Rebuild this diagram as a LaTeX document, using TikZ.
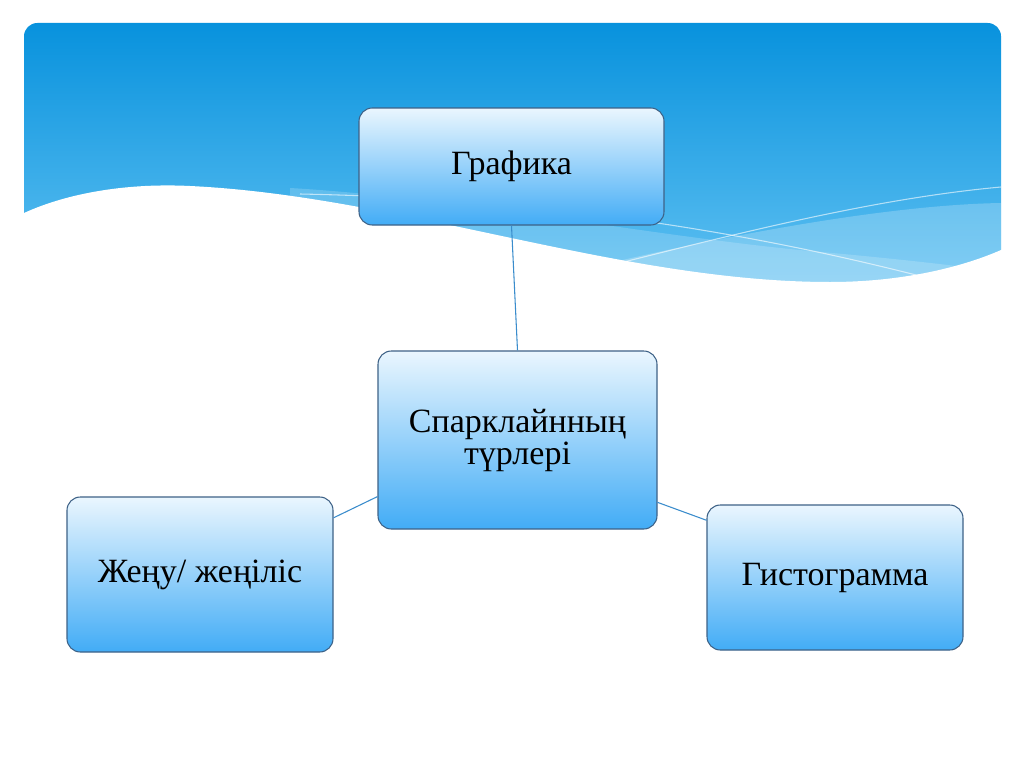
\documentclass[tikz,border=0pt]{standalone}
\usepackage{fontspec}
\setmainfont{Liberation Serif}
\begin{document}
\begin{tikzpicture}[x=0.75pt,y=-0.75pt,
  box/.style={draw=boxedge, line width=0.8pt, rounded corners=10pt,
    top color=boxtop, middle color=boxmid, bottom color=boxbot,
    inner sep=0pt, align=center, font=\fontsize{25.5}{24}\selectfont},
  link/.style={draw=linkblue, line width=0.8pt},
  wline/.style={draw=white, draw opacity=0.6, line width=0.8pt}]
\definecolor{boxedge}{RGB}{62,98,135}
\definecolor{boxtop}{RGB}{234,246,254}
\definecolor{boxmid}{RGB}{160,212,250}
\definecolor{boxbot}{RGB}{66,172,246}
\definecolor{linkblue}{RGB}{58,140,204}
\definecolor{paneltop}{RGB}{8,146,221}
\definecolor{panelbot}{RGB}{100,195,243}
\useasboundingbox (0,0) rectangle (1024,767);
\fill[white] (0,0) rectangle (1024,767);
% panel
\shade[top color=paneltop, bottom color=panelbot, rounded corners=10pt]
  (24,23) rectangle (1001,300);
% lighter bands
\fill[white, opacity=0.18] (290,188) .. controls (460,198) and (650,236) .. (810,251)
  .. controls (900,259) and (960,266) .. (1001,272) -- (1001,300) -- (290,300) -- cycle;
\fill[white, opacity=0.22] (560,275) .. controls (700,240) and (880,205) .. (1001,203)
  -- (1001,300) -- (560,300) -- cycle;
% white lines
\draw[wline] (300,194) .. controls (500,198) and (700,220) .. (920,276);
\draw[wline] (600,268) .. controls (750,230) and (880,198) .. (1001,187);
% white wave
\fill[white] (20,215) -- (24,213) .. controls (70,192) and (130,183) .. (190,186)
  .. controls (400,196) and (620,282) .. (830,282)
  .. controls (900,282) and (960,268) .. (1001,250) -- (1010,246)
  -- (1010,310) -- (20,310) -- cycle;
% nodes
\node[box, minimum width=228.75pt, minimum height=87.75pt] (graf) at (511.5,166.5) {Графика};
\node[box, minimum width=209.25pt, minimum height=133.5pt] (spark) at (517.5,440) {Спарклайнның\\түрлері};
\node[box, minimum width=199.5pt, minimum height=116.25pt] (zhen) at (200,574.5) {Жеңу/ жеңіліс};
\node[box, minimum width=192pt, minimum height=108.75pt] (hist) at (835,577.5) {Гистограмма};
% connectors
\draw[link] (graf.south) -- (spark.north);
\draw[link] (zhen.23) -- (spark.202);
\draw[link] (spark.336.7) -- (hist.156.6);
\end{tikzpicture}
\end{document}
